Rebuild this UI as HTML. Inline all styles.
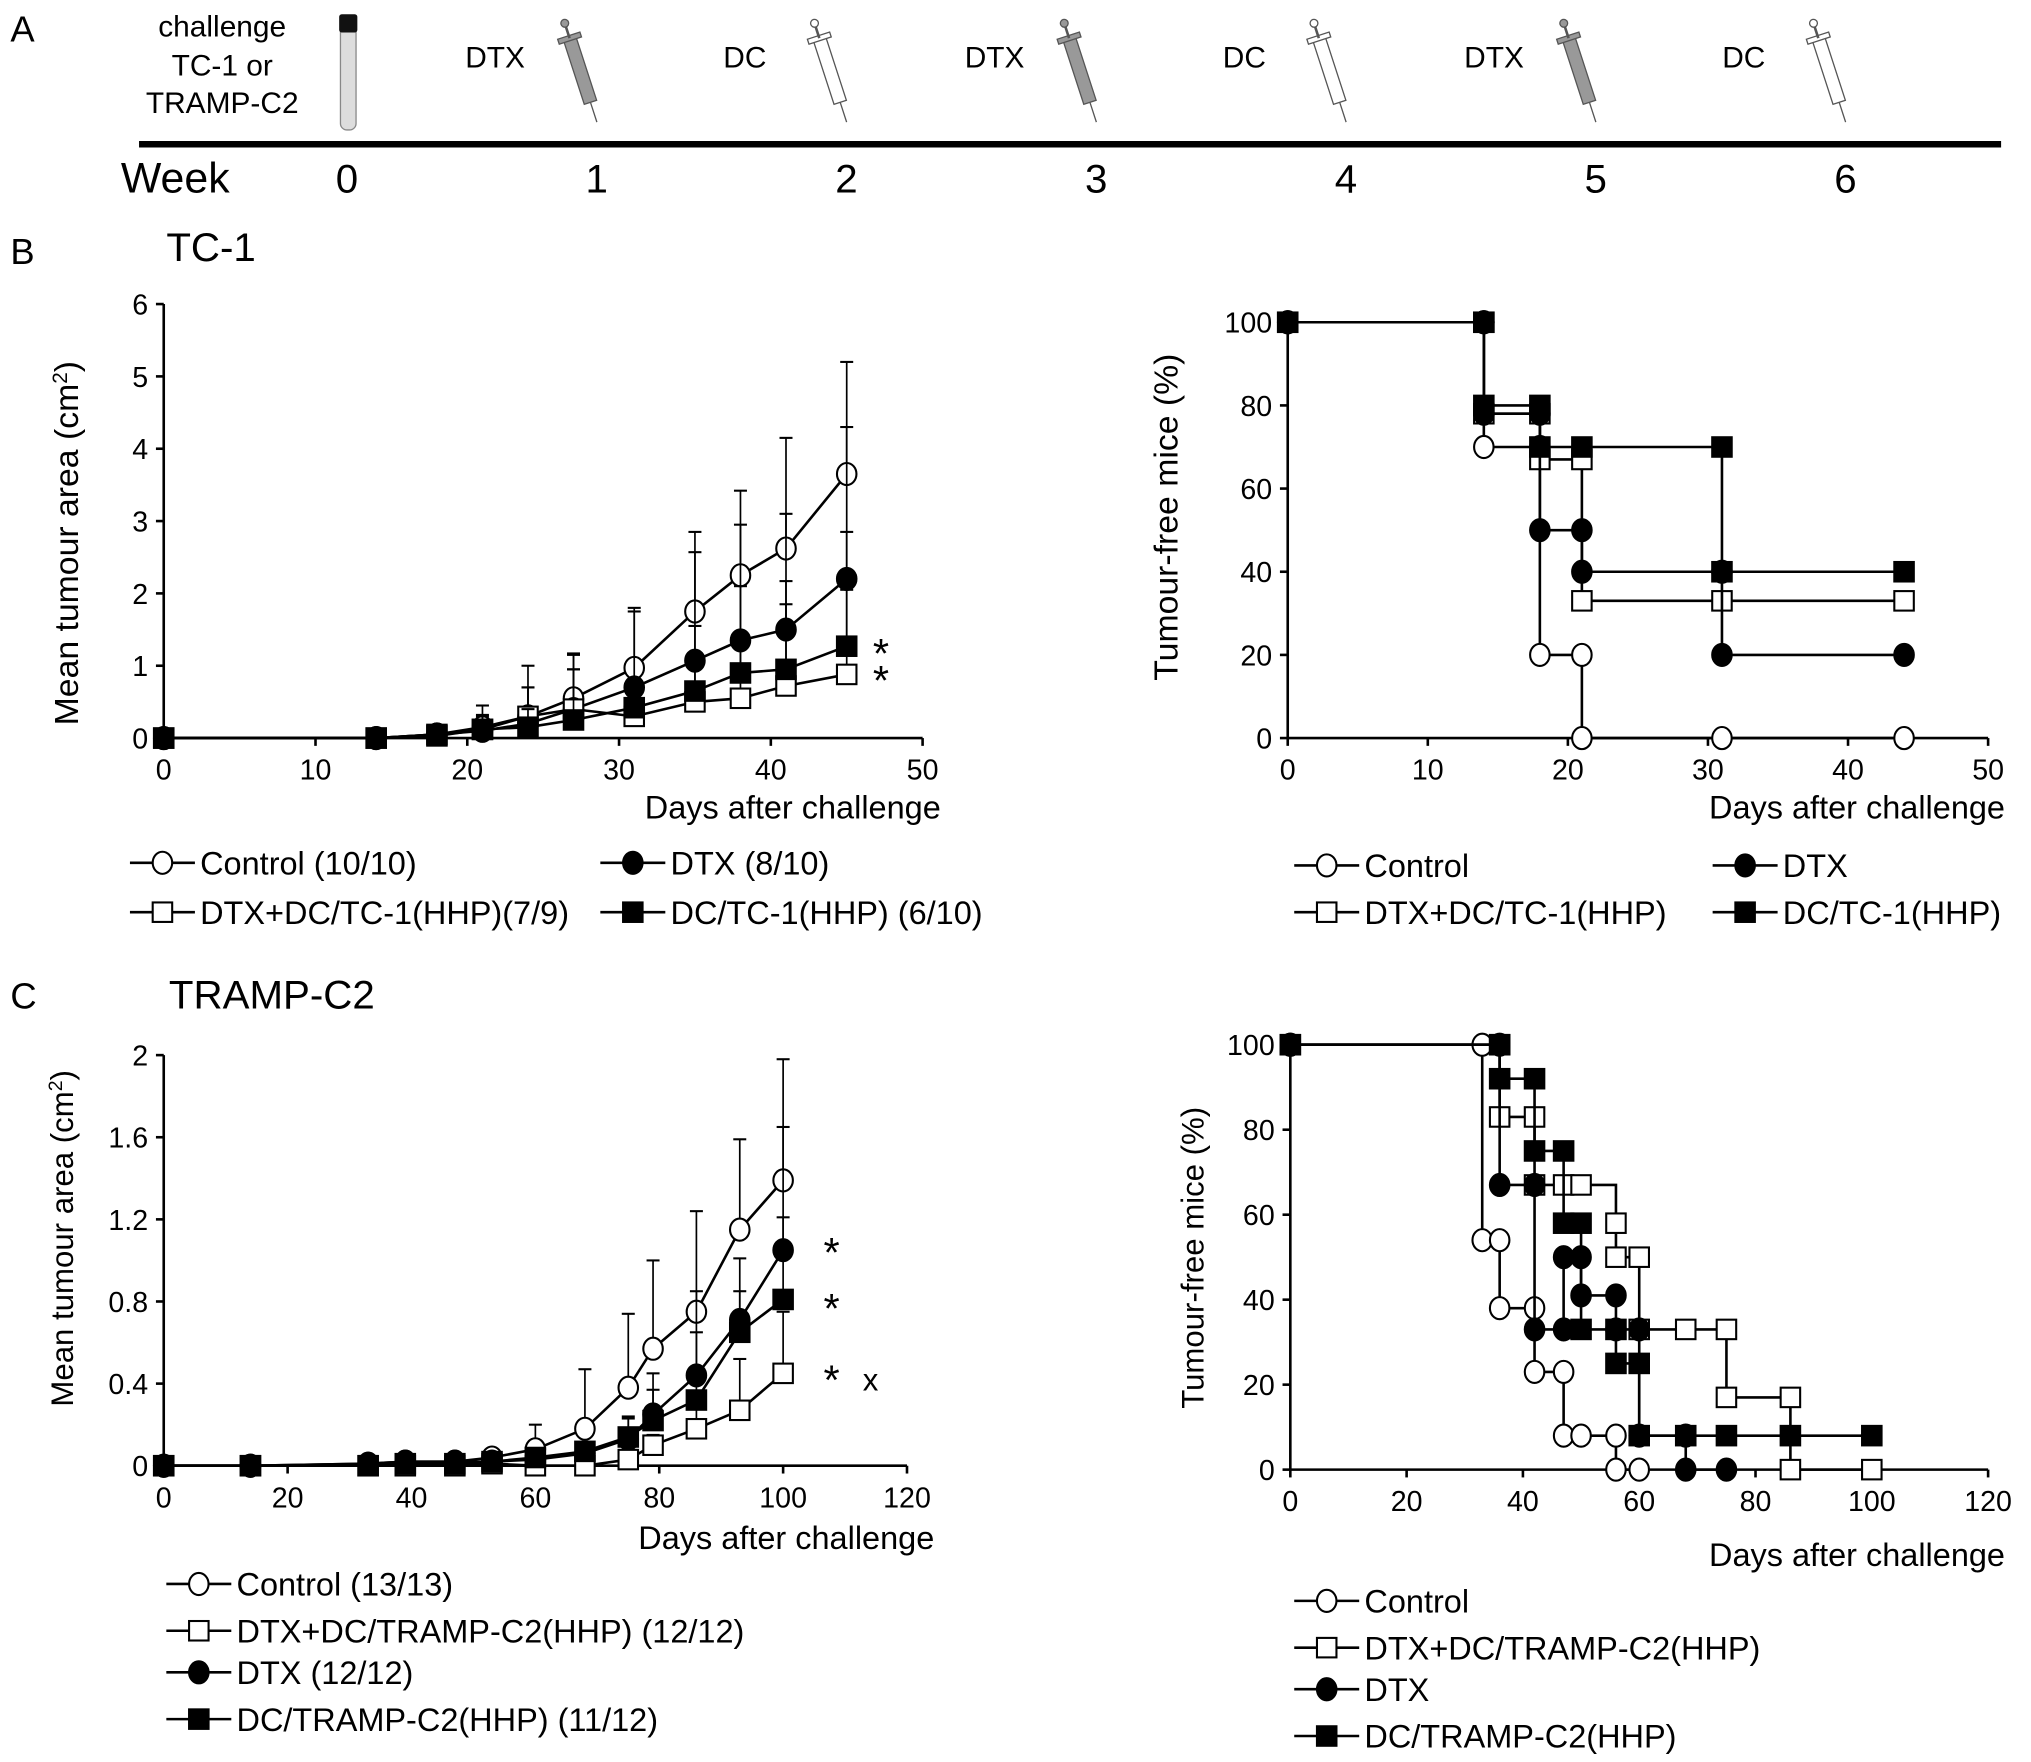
<!DOCTYPE html>
<html><head><meta charset="utf-8">
<style>
html,body{margin:0;padding:0;background:#fff}
svg{display:block}
text{font-family:"Liberation Sans",Arial,sans-serif;fill:#000}
</style></head>
<body>
<svg id="fig" width="2031" height="1762" viewBox="0 0 1563 1356" xmlns="http://www.w3.org/2000/svg">
<g id="panelA">
<text x="8" y="32" font-size="28">A</text>
<text x="171" y="28" font-size="23" text-anchor="middle">challenge</text>
<text x="171" y="58" font-size="23" text-anchor="middle">TC-1 or</text>
<text x="171" y="87" font-size="23" text-anchor="middle">TRAMP-C2</text>
<g>
<rect x="262" y="12" width="12" height="88" rx="5" fill="#ddd" stroke="#888" stroke-width="1"/>
<rect x="261" y="11" width="14" height="14" rx="2" fill="#111"/>
</g>
<line x1="107" y1="111" x2="1540" y2="111" stroke="#000" stroke-width="5"/>
<text x="93" y="148" font-size="33">Week</text>
</g>
<g id="panelB">
<text x="8" y="203" font-size="28">B</text>
<text x="128" y="201" font-size="31">TC-1</text>
</g>
<g id="panelC">
<text x="8" y="776" font-size="28">C</text>
<text x="130" y="776" font-size="31">TRAMP-C2</text>
</g>
<g id="charts"></g>
</svg>
<script>
// ---- Panel A data ----
const weekLabels = ["0","1","2","3","4","5","6"];
const injections = ["DTX","DC","DTX","DC","DTX","DC"];

// ---- B left: TC-1 growth ----
const bDays = [0,14,18,21,24,27,31,35,38,41,45];
const bControl = [0,0,0.05,0.15,0.3,0.55,0.97,1.75,2.25,2.62,3.65];
const bControlErr = [0,0,0.05,0.3,0.7,0.62,0.83,1.1,1.17,1.53,1.55];
const bDTX = [0,0,0.05,0.1,0.2,0.4,0.7,1.07,1.35,1.5,2.2];
const bDTXErr = [0,0,0.03,0.2,0.5,0.75,1.05,1.5,1.6,1.6,2.1];
const bDC = [0,0,0.05,0.12,0.15,0.25,0.42,0.65,0.9,0.95,1.27];
const bDCErr = [0,0,0.03,0.2,0.25,0.7,0.4,0.9,1.2,1.22,1.58];
const bCombo = [0,0,0.03,0.12,0.3,0.4,0.3,0.5,0.55,0.72,0.88];
const bComboErr = [0,0,0.02,0.1,0.4,0.55,0.3,0.6,0.7,1.13,1.17];

// ---- B right: TC-1 survival (time, %) ----
const sbControl = [[0,100],[14,100],[14,70],[18,70],[18,20],[21,20],[21,0],[31,0],[44,0]];
const sbCombo = [[0,100],[14,100],[14,78],[18,78],[18,67],[21,67],[21,33],[31,33],[44,33]];
const sbDTX = [[0,100],[14,100],[14,78],[18,78],[18,50],[21,50],[21,40],[31,40],[31,20],[44,20]];
const sbDC = [[0,100],[14,100],[14,80],[18,80],[18,70],[21,70],[31,70],[31,40],[44,40]];

// ---- C left: TRAMP-C2 growth ----
const cDays = [0,14,33,39,47,53,60,68,75,79,86,93,100];
const cControl = [0,0,0.01,0.02,0.02,0.04,0.08,0.18,0.38,0.57,0.75,1.15,1.39];
const cControlErr = [0,0,0,0.01,0.01,0.02,0.12,0.29,0.36,0.43,0.49,0.44,0.59];
const cDTX = [0,0,0.01,0.02,0.02,0.02,0.03,0.06,0.13,0.25,0.44,0.71,1.05];
const cDTXErr = [0,0,0,0,0.01,0.01,0.02,0.05,0.1,0.2,0.41,0.3,0.6];
const cDC = [0,0,0,0.01,0.01,0.02,0.04,0.07,0.14,0.22,0.32,0.65,0.81];
const cDCErr = [0,0,0,0,0.01,0.01,0.02,0.04,0.1,0.15,0.33,0.2,0.4];
const cCombo = [0,0,0,0,0,0.01,0,0,0.03,0.1,0.18,0.27,0.45];
const cComboErr = [0,0,0,0,0,0,0,0,0.03,0.05,0.1,0.25,0.3];

// ---- C right: TRAMP-C2 survival ----
const scControl = [[0,100],[33,100],[33,54],[36,54],[36,38],[42,38],[42,23],[47,23],[47,8],[50,8],[56,8],[56,0],[60,0]];
const scCombo = [[0,100],[36,100],[36,83],[42,83],[42,67],[47,67],[50,67],[56,58],[56,50],[60,50],[60,33],[68,33],[75,33],[75,17],[86,17],[86,0],[100,0]];
const scDTX = [[0,100],[36,100],[36,67],[42,67],[42,33],[47,33],[47,50],[50,50],[50,41],[56,41],[56,33],[60,33],[60,8],[68,8],[68,0],[75,0]];
const scDC = [[0,100],[36,100],[36,92],[42,92],[42,75],[47,75],[47,58],[50,58],[50,33],[56,33],[56,25],[60,25],[60,8],[68,8],[75,8],[86,8],[100,8]];

const NS="http://www.w3.org/2000/svg";
const root=document.getElementById('charts');
function mk(tag,attrs,parent){const e=document.createElementNS(NS,tag);for(const k in attrs)e.setAttribute(k,attrs[k]);(parent||root).appendChild(e);return e;}
function txt(x,y,s,size,anchor,parent){const t=mk('text',{x:x,y:y,'font-size':size,'text-anchor':anchor||'start'},parent);t.textContent=s;return t;}

// Panel A
const weekX=i=>267+i*192.2;
weekLabels.forEach((w,i)=>{const t=txt(weekX(i),148,w,31,'middle');

});
injections.forEach((s,i)=>{const base=weekX(i);
const t=txt(base+114,52,s,23,'middle');


const g=mk('g',{transform:`translate(${base+167},16) rotate(-18)`});


const fill=s==='DTX'?'#999':'#fff';
mk('rect',{x:-5,y:14,width:10,height:52,fill:fill,stroke:'#555','stroke-width':1},g);
mk('rect',{x:-9,y:12,width:18,height:4,fill:fill,stroke:'#555','stroke-width':1},g);
mk('line',{x1:0,y1:2,x2:0,y2:14,stroke:'#555','stroke-width':2},g);
mk('line',{x1:0,y1:66,x2:0,y2:82,stroke:'#555','stroke-width':1},g);
mk('circle',{cx:0,cy:2,r:3,fill:fill,stroke:'#555'},g);});

function axes(o){
 const g=mk('g',{});
 
 
 const X=v=>o.x0+(v-o.xmin)/(o.xmax-o.xmin)*(o.x1-o.x0);
 const Y=v=>o.y0-(v-o.ymin)/(o.ymax-o.ymin)*(o.y0-o.y1);
 mk('line',{x1:o.x0,y1:o.y0,x2:o.x0,y2:o.y1,stroke:'#000','stroke-width':2},g);
 mk('line',{x1:o.x0,y1:o.y0,x2:o.x1,y2:o.y0,stroke:'#000','stroke-width':2},g);
 o.xt.forEach(v=>{mk('line',{x1:X(v),y1:o.y0,x2:X(v),y2:o.y0+6,stroke:'#000','stroke-width':2},g);
  const t=txt(X(v),o.y0+32,String(v),22,'middle',g);
  
  });
 o.yt.forEach((v,i)=>{mk('line',{x1:o.x0-6,y1:Y(v),x2:o.x0,y2:Y(v),stroke:'#000','stroke-width':2},g);
  const t=txt(o.x0-12,Y(v)+8,o.ytl[i],22,'end',g);
  
  });
 const xt=txt(o.xtx,o.xty,'Days after challenge',25,'end',g);
 
 
 const yt=mk('text',{x:0,y:0,'font-size':o.yts||26,'text-anchor':'middle',transform:`translate(${o.ytx},${o.yty}) rotate(-90)`},g);
 yt.innerHTML=o.ytitle;
 
 
 return {g,X,Y};
}
function marker(g,type,x,y){
 let m;
 if(type==='oc'||type==='fc') m=mk('ellipse',{cx:x,cy:y,rx:7.5,ry:8.5,fill:type==='fc'?'#000':'#fff',stroke:'#000','stroke-width':1.6},g);
 else m=mk('rect',{x:x-7.5,y:y-7.5,width:15,height:15,fill:type==='fs'?'#000':'#fff',stroke:'#000','stroke-width':1.6},g);
 
 
}
function growth(ax,days,vals,errs,type,name){
 const g=mk('g',{},ax.g);
 
 
 days.forEach((d,i)=>{if(errs[i]>0){const x=ax.X(d),yt=ax.Y(vals[i]+errs[i]);
  mk('line',{x1:x,y1:ax.Y(vals[i]),x2:x,y2:yt,stroke:'#000','stroke-width':1.3},g);
  mk('line',{x1:x-5,y1:yt,x2:x+5,y2:yt,stroke:'#000','stroke-width':1.6},g);}});
 mk('polyline',{points:days.map((d,i)=>ax.X(d)+','+ax.Y(vals[i])).join(' '),fill:'none',stroke:'#000','stroke-width':2},g);
 days.forEach((d,i)=>marker(g,type,ax.X(d),ax.Y(vals[i])));
}
function surv(ax,pts,type,name){
 const g=mk('g',{},ax.g);
 
 
 let d='M'+ax.X(pts[0][0])+' '+ax.Y(pts[0][1]);
 for(let i=1;i<pts.length;i++){d+=' H'+ax.X(pts[i][0])+' V'+ax.Y(pts[i][1]);}
 mk('path',{d:d,fill:'none',stroke:'#000','stroke-width':2},g);
 pts.forEach(p=>marker(g,type,ax.X(p[0]),ax.Y(p[1])));
}
function legend(entries,x,ys,size){
 entries.forEach((e,i)=>{const g=mk('g',{});
  
  
  const y=ys[i][1],lx=ys[i][0];
  mk('line',{x1:lx,y1:y,x2:lx+50,y2:y,stroke:'#000','stroke-width':2},g);
  marker(g,e[1],lx+25,y);
  txt(lx+54,y+9,e[0],size||25,'start',g);});
}

// B left
const bl=axes({name:'tc1-growth-chart',x0:126,x1:710,xmin:0,xmax:50,y0:568,y1:234,ymin:0,ymax:6,xt:[0,10,20,30,40,50],yt:[0,1,2,3,4,5,6],ytl:['0','1','2','3','4','5','6'],xtx:724,xty:630,ytx:60,yty:418,ytitle:'Mean tumour area (cm<tspan baseline-shift="super" font-size="16">2</tspan>)'});
growth(bl,bDays,bControl,bControlErr,'oc','series-control');
growth(bl,bDays,bDTX,bDTXErr,'fc','series-dtx');
growth(bl,bDays,bCombo,bComboErr,'os','series-dtx-dc');
growth(bl,bDays,bDC,bDCErr,'fs','series-dc');
txt(678,514,'*',32,'middle');
txt(678,535,'*',32,'middle');
legend([['Control (10/10)','oc'],['DTX (8/10)','fc'],['DTX+DC/TC-1(HHP)(7/9)','os'],['DC/TC-1(HHP) (6/10)','fs']],0,[[100,664],[462,664],[100,702],[462,702]]);

// B right
const br=axes({name:'tc1-survival-chart',x0:991,x1:1530,xmin:0,xmax:50,y0:568,y1:248,ymin:0,ymax:100,xt:[0,10,20,30,40,50],yt:[0,20,40,60,80,100],ytl:['0','20','40','60','80','100'],xtx:1543,xty:630,ytx:906,yty:398,ytitle:'Tumour-free mice (%)'});
surv(br,sbControl,'oc','survival-control');
surv(br,sbCombo,'os','survival-dtx-dc');
surv(br,sbDTX,'fc','survival-dtx');
surv(br,sbDC,'fs','survival-dc');
legend([['Control','oc'],['DTX','fc'],['DTX+DC/TC-1(HHP)','os'],['DC/TC-1(HHP)','fs']],0,[[996,666],[1318,666],[996,702],[1318,702]]);

// C left
const cl=axes({name:'tramp-growth-chart',x0:126,x1:698,xmin:0,xmax:120,y0:1128,y1:812,ymin:0,ymax:2,xt:[0,20,40,60,80,100,120],yt:[0,0.4,0.8,1.2,1.6,2],ytl:['0','0.4','0.8','1.2','1.6','2'],xtx:719,xty:1192,ytx:56,yty:953,yts:24,ytitle:'Mean tumour area (cm<tspan baseline-shift="super" font-size="15">2</tspan>)'});
growth(cl,cDays,cControl,cControlErr,'oc','series-control');
growth(cl,cDays,cDTX,cDTXErr,'fc','series-dtx');
growth(cl,cDays,cCombo,cComboErr,'os','series-dtx-dc');
growth(cl,cDays,cDC,cDCErr,'fs','series-dc');
txt(640,975,'*',32,'middle');
txt(640,1018,'*',32,'middle');
txt(640,1073,'*',32,'middle');
txt(670,1070,'x',24,'middle');
legend([['Control (13/13)','oc'],['DTX+DC/TRAMP-C2(HHP) (12/12)','os'],['DTX (12/12)','fc'],['DC/TRAMP-C2(HHP) (11/12)','fs']],0,[[128,1219],[128,1255],[128,1287],[128,1323]]);

// C right
const cr=axes({name:'tramp-survival-chart',x0:993,x1:1530,xmin:0,xmax:120,y0:1131,y1:804,ymin:0,ymax:100,xt:[0,20,40,60,80,100,120],yt:[0,20,40,60,80,100],ytl:['0','20','40','60','80','100'],xtx:1543,xty:1205,ytx:926,yty:968,yts:24,ytitle:'Tumour-free mice (%)'});
surv(cr,scControl,'oc','survival-control');
surv(cr,scCombo,'os','survival-dtx-dc');
surv(cr,scDTX,'fc','survival-dtx');
surv(cr,scDC,'fs','survival-dc');
legend([['Control','oc'],['DTX+DC/TRAMP-C2(HHP)','os'],['DTX','fc'],['DC/TRAMP-C2(HHP)','fs']],0,[[996,1232],[996,1268],[996,1300],[996,1336]]);
</script>
</body></html>
